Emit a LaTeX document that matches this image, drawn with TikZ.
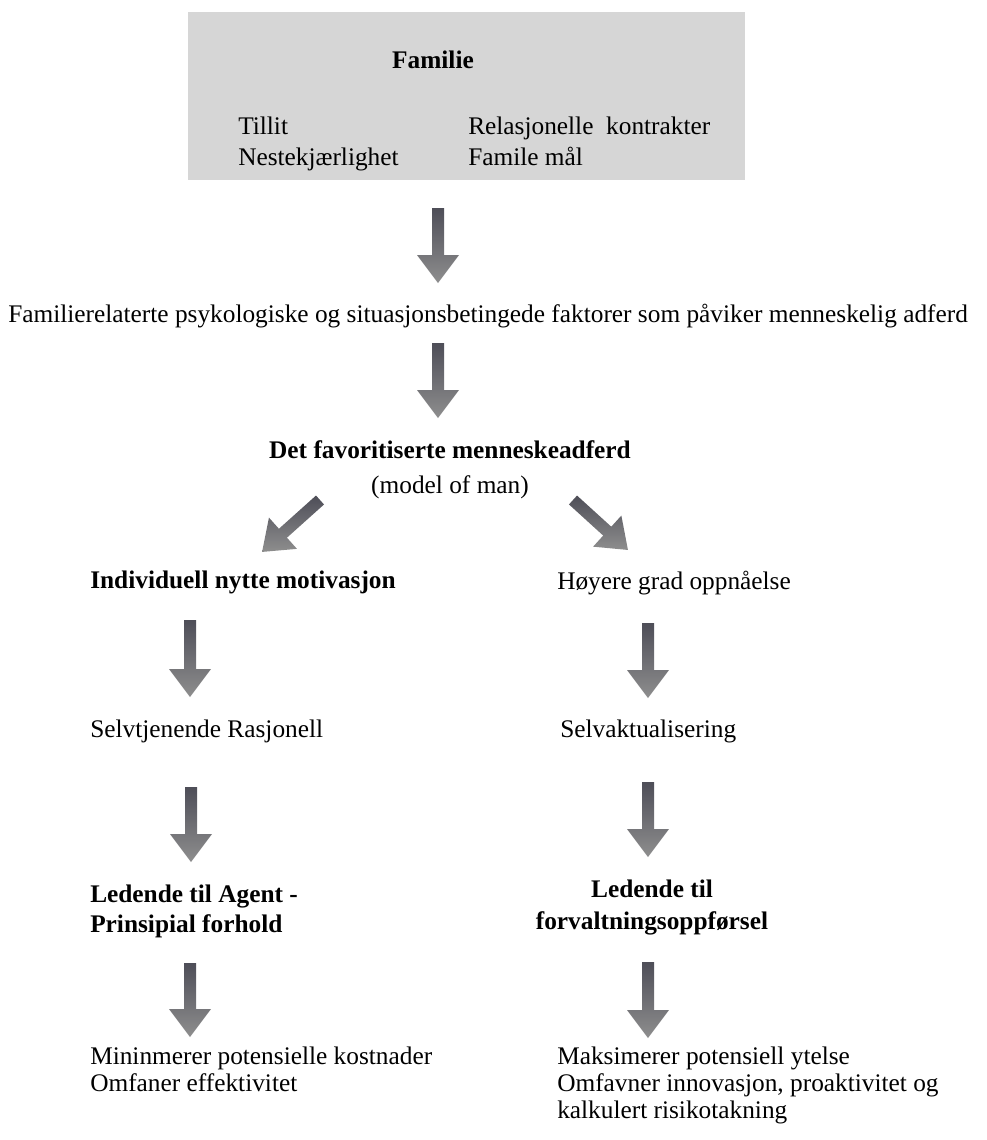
\documentclass[tikz,border=0pt]{standalone}
\usepackage{fontspec}
\setmainfont{Liberation Serif}
\usetikzlibrary{calc}

\definecolor{boxgray}{RGB}{214,214,214}
\definecolor{ardark}{RGB}{78,78,88}
\definecolor{arlight}{RGB}{142,142,142}

\tikzset{
  lbl/.style={inner sep=0pt, font=\fontsize{19}{22}\selectfont},
  lblb/.style={inner sep=0pt, font=\fontsize{19}{22}\selectfont\bfseries},
}

% shaded block arrow from tail coordinate #1 to tip coordinate #2
\newcommand\blockarrow[2]{%
  \path let \p1=(#1), \p2=(#2),
    \n1={atan2(\y2-\y1,\x2-\x1)+90},
    \n2={veclen(\x2-\x1,\y2-\y1)} in
    \pgfextra{\xdef\baang{\n1}\xdef\balen{\n2}};
  \pgfmathsetlengthmacro\bashaft{\balen-21}%
  \pgfmathsetlengthmacro\batip{\balen}%
  \begin{scope}[shift={(#1)},rotate=\baang]
    \shade[top color=ardark, bottom color=arlight]
      (-4.5pt,0pt) -- (4.5pt,0pt) -- (4.5pt,-\bashaft) -- (15.75pt,-\bashaft)
      -- (0pt,-\batip) -- (-15.75pt,-\bashaft) -- (-4.5pt,-\bashaft) -- cycle;
  \end{scope}}

\begin{document}
\begin{tikzpicture}[x=0.75pt,y=-0.75pt]
\useasboundingbox (0,0) rectangle (987,1140);

% family box
\node (box) [fill=boxgray, inner sep=0pt, minimum width=417.75pt, minimum height=126pt, anchor=north west] at (188,12) {};
\node (fam)  [lblb, anchor=base] at (433,68) {Familie};
\node (til)  [lbl, anchor=base west] at (238,134) {Tillit};
\node (nes)  [lbl, anchor=base west] at (238,165) {Nestekjærlighet};
\node (rel)  [lbl, anchor=base west] at (468,134) {Relasjonelle\ \ kontrakter};
\node (mal)  [lbl, anchor=base west] at (468,165) {Famile mål};

% common factors
\node (fak) [lbl, anchor=base west] at (8,322) {Familierelaterte psykologiske og situasjonsbetingede faktorer som påviker menneskelig adferd};
\node (fav) [lblb, anchor=base] at (450,458) {Det favoritiserte menneskeadferd};
\node (mom) [lbl, anchor=base] at (450,493) {(model of man)};

% left branch
\node (ind) [lblb, anchor=base west] at (90,588) {Individuell nytte motivasjon};
\node (sel) [lbl,  anchor=base west] at (90,737) {Selvtjenende Rasjonell};
\node (led) [lblb, anchor=base west] at (90,902) {Ledende til Agent -};
\node (pri) [lblb, anchor=base west] at (90,932) {Prinsipial forhold};
\node (min) [lbl,  anchor=base west] at (90,1064) {Mininmerer potensielle kostnader};
\node (omf) [lbl,  anchor=base west] at (90,1091) {Omfaner effektivitet};

% right branch
\node (hoy) [lbl,  anchor=base west] at (557,589) {Høyere grad oppnåelse};
\node (akt) [lbl,  anchor=base west] at (560,737) {Selvaktualisering};
\node (ld2) [lblb, anchor=base] at (652,897) {Ledende til};
\node (for) [lblb, anchor=base] at (652,929) {forvaltningsoppførsel};
\node (mak) [lbl,  anchor=base west] at (557,1064) {Maksimerer potensiell ytelse};
\node (inn) [lbl,  anchor=base west] at (557,1091) {Omfavner innovasjon, proaktivitet og};
\node (kal) [lbl,  anchor=base west] at (557,1118) {kalkulert risikotakning};

% arrow end points
\coordinate (a1t) at (438,208);  \coordinate (a1h) at (438,283);
\coordinate (a2t) at (438,343);  \coordinate (a2h) at (438,418);
\coordinate (dlt) at (320,500);  \coordinate (dlh) at (262,552);
\coordinate (drt) at (573,500);  \coordinate (drh) at (628,550);
\coordinate (l1t) at (190,620);  \coordinate (l1h) at (190,697);
\coordinate (l2t) at (191,787);  \coordinate (l2h) at (191,862);
\coordinate (l3t) at (190,963);  \coordinate (l3h) at (190,1037);
\coordinate (r1t) at (648,623);  \coordinate (r1h) at (648,698);
\coordinate (r2t) at (648,782);  \coordinate (r2h) at (648,857);
\coordinate (r3t) at (648,962);  \coordinate (r3h) at (648,1038);

\blockarrow{a1t}{a1h}
\blockarrow{a2t}{a2h}
\blockarrow{dlt}{dlh}
\blockarrow{drt}{drh}
\blockarrow{l1t}{l1h}
\blockarrow{l2t}{l2h}
\blockarrow{l3t}{l3h}
\blockarrow{r1t}{r1h}
\blockarrow{r2t}{r2h}
\blockarrow{r3t}{r3h}
\end{tikzpicture}
\end{document}
